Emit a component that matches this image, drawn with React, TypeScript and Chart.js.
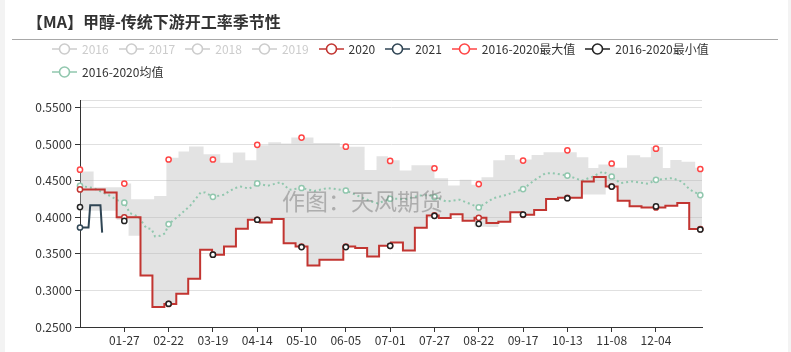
import React, { useEffect, useRef } from 'react';
import { Chart, registerables } from 'chart.js';

Chart.register(...registerables);

// ---------- data ----------
const tickDays = [26, 52, 78, 104, 130, 156, 182, 208, 234, 260, 286, 312, 338];
const tickLabels = ['01-27', '02-22', '03-19', '04-14', '05-10', '06-05', '07-01', '07-27', '08-22', '09-17', '10-13', '11-08', '12-04'];
const markerDays = [0, 26, 52, 78, 104, 130, 156, 182, 208, 234, 260, 286, 312, 338, 364];
const yTicks = [0.25, 0.3, 0.35, 0.4, 0.45, 0.5, 0.55];
const yMax = 0.5603;

// 2020 weekly values (week k)
const v2020 = [
  0.438, 0.438, 0.434, 0.4, 0.4, 0.3205, 0.2773, 0.2815, 0.2955, 0.316,
  0.3556, 0.3488, 0.36, 0.3843, 0.3966, 0.393, 0.3975, 0.3645, 0.36, 0.334,
  0.342, 0.342, 0.36, 0.358, 0.3465, 0.361, 0.3656, 0.3547, 0.3855, 0.4025,
  0.399, 0.404, 0.3953, 0.3993, 0.392, 0.394, 0.407, 0.4034, 0.41, 0.425,
  0.4266, 0.4266, 0.449, 0.455, 0.442, 0.4225, 0.415, 0.4134, 0.4134, 0.4157,
  0.4194, 0.3839, 0.3839,
];

// lower edge of grey range band (weekly)
const bandLow = [
  0.409, 0.409, 0.409, 0.3966, 0.3747, 0.3205, 0.2773, 0.2815, 0.2955, 0.316,
  0.3556, 0.3488, 0.36, 0.3843, 0.3966, 0.393, 0.3975, 0.3645, 0.36, 0.334,
  0.342, 0.342, 0.36, 0.358, 0.3465, 0.361, 0.3656, 0.3547, 0.3855, 0.4025,
  0.399, 0.404, 0.3953, 0.387, 0.3866, 0.394, 0.407, 0.4034, 0.41, 0.425,
  0.4266, 0.4266, 0.431, 0.431, 0.442, 0.4225, 0.415, 0.4134, 0.4134, 0.4157,
  0.4194, 0.3839, 0.3839,
];

// upper edge of grey range band (step starts)
const bandTopDays = [0, 8, 25.5, 30, 43.5, 50.7, 57.8, 64, 72.5, 82.3, 89.7, 97, 103.5, 110.5, 118, 124, 137, 152.5, 167, 174, 180.7, 187.6, 194.5, 208, 216, 222.8, 229.7, 235.6, 242.5, 249.3, 255.2, 265, 272, 291.5, 298.3, 304.2, 314, 321, 328.7, 335, 342, 346.4, 353, 361, 365];
const bandTopVals = [0.4626, 0.441, 0.446, 0.4245, 0.429, 0.4815, 0.49, 0.4968, 0.486, 0.4745, 0.4885, 0.478, 0.4985, 0.5025, 0.501, 0.509, 0.5015, 0.4963, 0.4645, 0.4835, 0.478, 0.464, 0.471, 0.4535, 0.4435, 0.4514, 0.4444, 0.4546, 0.478, 0.485, 0.479, 0.485, 0.489, 0.482, 0.4673, 0.472, 0.4676, 0.4847, 0.482, 0.496, 0.4673, 0.4783, 0.476, 0.4676, 0.4676];

// 2016-2020 average
const avgDays = [0, 7.8, 17.5, 23.4, 26, 29.3, 34.2, 39, 42, 44, 47, 49.9, 52, 58.7, 64.6, 70.9, 73.4, 78, 84.2, 91, 94.4, 99.3, 104, 110, 118, 122.8, 130, 137.5, 145.4, 156, 163, 171, 174.8, 182, 191.5, 199.3, 205, 208, 215, 222.8, 228.7, 234, 242.5, 250.3, 260, 267, 273, 276.8, 286, 290.5, 294.4, 300.3, 307, 312, 317, 323.8, 333.6, 338, 347.4, 353, 358, 364];
const avgVals = [0.443, 0.44, 0.4294, 0.4216, 0.42, 0.4057, 0.401, 0.385, 0.3839, 0.3738, 0.3747, 0.378, 0.3907, 0.4034, 0.4157, 0.434, 0.434, 0.428, 0.4307, 0.44, 0.442, 0.439, 0.4462, 0.443, 0.448, 0.4376, 0.44, 0.436, 0.44, 0.4366, 0.4294, 0.4216, 0.419, 0.4253, 0.425, 0.4298, 0.4302, 0.4276, 0.4216, 0.424, 0.4184, 0.4134, 0.426, 0.4307, 0.4385, 0.4512, 0.46, 0.4604, 0.457, 0.4535, 0.45, 0.455, 0.4626, 0.4557, 0.4467, 0.449, 0.4458, 0.4512, 0.4535, 0.449, 0.4376, 0.4303];

// 2016-2020 max / min at marker days
const maxVals = [0.465, 0.446, 0.479, 0.479, 0.499, 0.509, 0.4965, 0.477, 0.467, 0.4454, 0.4775, 0.4915, 0.4735, 0.4937, 0.466];
const minVals = [0.414, 0.395, 0.2818, 0.3488, 0.3966, 0.3593, 0.3593, 0.361, 0.402, 0.391, 0.4038, 0.426, 0.442, 0.4148, 0.3833];

// 2021 daily values
const v2021 = [0.386, 0.386, 0.386, 0.386, 0.386, 0.386, 0.4165, 0.4165, 0.4165, 0.4165, 0.4165, 0.4165, 0.4165, 0.379];

// legend
const legendNames = ['2016', '2017', '2018', '2019', '2020', '2021', '2016-2020最大值', '2016-2020最小值', '2016-2020均值'];
const legendColors = ['#ccc', '#ccc', '#ccc', '#ccc', '#c23531', '#2f4554', '#ff4545', '#222', '#91c7ae'];
const legendActive = [false, false, false, false, true, true, true, true, true];

const C2020 = '#c23531';
const C2021 = '#2f4554';
const CMAX = '#ff4545';
const CMIN = '#222';
const CAVG = '#91c7ae';
const FONT = "'Noto Sans CJK SC', 'Noto Sans', sans-serif";

const weekStart = (k: number) => (k === 0 ? 0 : 7 * k + 0.5);
const weekOf = (d: number) => (d < 0.5 ? 0 : Math.min(v2020.length - 1, Math.floor((d - 0.5) / 7)));

function weeklyPoints(vals: number[]) {
  const pts: any[] = vals.map((y, k) => ({ x: weekStart(k), y }));
  pts.push({ x: 365, y: vals[vals.length - 1] });
  return pts;
}

function points2020() {
  const pts: any[] = weeklyPoints(v2020);
  markerDays.forEach((m) => {
    const ex = pts.find((p) => p.x === m);
    if (ex) ex.marker = true;
    else pts.push({ x: m, y: v2020[weekOf(m)], marker: true });
  });
  pts.sort((a, b) => a.x - b.x);
  return pts;
}

const markerRadius = (ctx: any) => (ctx.raw && ctx.raw.marker ? 2.6 : 0);

function LegendIcon({ color }: { color: string }) {
  return (
    <svg width={25} height={14} style={{ display: 'block' }}>
      <line x1={0} y1={7} x2={25} y2={7} stroke={color} strokeWidth={1.5} />
      <circle cx={12.5} cy={7} r={5} stroke={color} strokeWidth={1.6} fill="#fff" />
    </svg>
  );
}

function LegendItem({ i }: { i: number }) {
  return (
    <div style={{ display: 'flex', alignItems: 'center', height: 14, marginRight: 10 }}>
      <LegendIcon color={legendColors[i]} />
      <span style={{ marginLeft: 5, fontSize: 12, lineHeight: '14px', color: legendActive[i] ? '#333' : '#ccc', whiteSpace: 'nowrap' }}>
        {legendNames[i]}
      </span>
    </div>
  );
}

export default function App() {
  const ref = useRef<HTMLCanvasElement>(null);

  useEffect(() => {
    if (!ref.current) return;
    const bandTopPts: any[] = bandTopDays.map((x, i) => ({ x, y: bandTopVals[i] }));
    const chart = new Chart(ref.current, {
      type: 'line',
      data: {
        datasets: [
          {
            label: 'bandLow',
            data: weeklyPoints(bandLow),
            stepped: true,
            borderWidth: 0,
            pointRadius: 0,
            fill: false,
            order: 10,
          } as any,
          {
            label: 'bandTop',
            data: bandTopPts,
            stepped: true,
            borderWidth: 0,
            pointRadius: 0,
            fill: '-1',
            backgroundColor: 'rgba(185,185,185,0.4)',
            order: 10,
          } as any,
          {
            label: '2016-2020均值',
            data: avgDays.map((x, i) => ({ x, y: avgVals[i], marker: markerDays.includes(x) })),
            borderColor: CAVG,
            borderWidth: 2,
            borderDash: [2, 3],
            pointRadius: markerRadius,
            pointBorderColor: CAVG,
            pointBackgroundColor: '#fff',
            pointBorderWidth: 1.5,
            fill: false,
            clip: false,
            order: 6,
          } as any,
          {
            label: '2020',
            data: points2020(),
            stepped: true,
            borderColor: C2020,
            borderWidth: 2,
            pointRadius: markerRadius,
            pointBorderColor: C2020,
            pointBackgroundColor: '#fff',
            pointBorderWidth: 1.5,
            fill: false,
            clip: false,
            order: 5,
          } as any,
          {
            label: '2021',
            data: v2021.map((y, i) => ({ x: i, y, marker: markerDays.includes(i) })),
            borderColor: C2021,
            borderWidth: 2,
            pointRadius: markerRadius,
            pointBorderColor: C2021,
            pointBackgroundColor: '#fff',
            pointBorderWidth: 1.5,
            fill: false,
            clip: false,
            order: 4,
          } as any,
          {
            label: '2016-2020最大值',
            data: markerDays.map((x, i) => ({ x, y: maxVals[i] })),
            showLine: false,
            pointRadius: 2.6,
            pointBorderColor: CMAX,
            pointBackgroundColor: '#fff',
            pointBorderWidth: 1.5,
            clip: false,
            order: 2,
          } as any,
          {
            label: '2016-2020最小值',
            data: markerDays.map((x, i) => ({ x, y: minVals[i] })),
            showLine: false,
            pointRadius: 2.6,
            pointBorderColor: CMIN,
            pointBackgroundColor: '#fff',
            pointBorderWidth: 1.5,
            clip: false,
            order: 1,
          } as any,
        ],
      },
      options: {
        animation: false,
        responsive: false,
        devicePixelRatio: 1,
        layout: { padding: { top: 100, right: 89, left: 0, bottom: 0 } },
        plugins: { legend: { display: false }, tooltip: { enabled: false } },
        events: [],
        scales: {
          x: {
            type: 'linear',
            min: 0,
            max: 365,
            afterBuildTicks: (s: any) => {
              s.ticks = tickDays.map((v) => ({ value: v }));
            },
            afterFit: (s: any) => {
              s.height = 25;
            },
            ticks: {
              autoSkip: false,
              maxRotation: 0,
              padding: 1,
              color: '#333',
              font: { size: 12, family: FONT },
              callback: (v: any) => {
                const i = tickDays.indexOf(Number(v));
                return i >= 0 ? tickLabels[i] : '';
              },
            },
            grid: { drawOnChartArea: false, tickLength: 5, tickColor: '#333' },
            border: { color: '#333', width: 1 },
          },
          y: {
            type: 'linear',
            min: 0.25,
            max: yMax,
            afterBuildTicks: (s: any) => {
              s.ticks = [...yTicks, yMax].map((v) => ({ value: v }));
            },
            afterFit: (s: any) => {
              s.width = 80;
            },
            ticks: {
              padding: 3,
              color: '#333',
              font: { size: 12, family: FONT },
              callback: (v: any) => (Number(v) > 0.551 ? '' : Number(v).toFixed(4)),
            },
            grid: {
              color: '#e0e0e0',
              tickLength: 5,
              tickColor: (ctx: any) => (ctx.tick && ctx.tick.value > 0.551 ? 'rgba(0,0,0,0)' : '#333'),
            },
            border: { color: '#333', width: 1 },
          },
        },
      } as any,
    });
    return () => chart.destroy();
  }, []);

  return (
    <div style={{ position: 'absolute', left: 0, top: 0, width: 791, height: 352, background: '#f3f3f3', overflow: 'hidden', fontFamily: FONT }}>
      <div style={{ position: 'absolute', left: 5, top: 0, width: 783, height: 352, background: '#fff' }} />
      <canvas ref={ref} width={791} height={352} style={{ position: 'absolute', left: 0, top: 0, width: 791, height: 352 }} />
      <div style={{ position: 'absolute', left: 27, top: 10, fontSize: 16, lineHeight: '22px', fontWeight: 'bold', color: '#333', whiteSpace: 'nowrap' }}>
        【MA】甲醇-传统下游开工率季节性
      </div>
      <div style={{ position: 'absolute', left: 12, top: 39, width: 766, height: 1, background: '#a8a8a8' }} />
      <div style={{ position: 'absolute', left: 52, top: 42, display: 'flex' }}>
        {[0, 1, 2, 3, 4, 5, 6, 7].map((i) => (
          <LegendItem key={i} i={i} />
        ))}
      </div>
      <div style={{ position: 'absolute', left: 52, top: 65, display: 'flex' }}>
        <LegendItem i={8} />
      </div>
      <div style={{ position: 'absolute', left: 282, top: 188, fontSize: 23, lineHeight: '24px', color: 'rgba(120,120,120,0.5)', whiteSpace: 'nowrap', pointerEvents: 'none' }}>
        作图：天风期货
      </div>
    </div>
  );
}
